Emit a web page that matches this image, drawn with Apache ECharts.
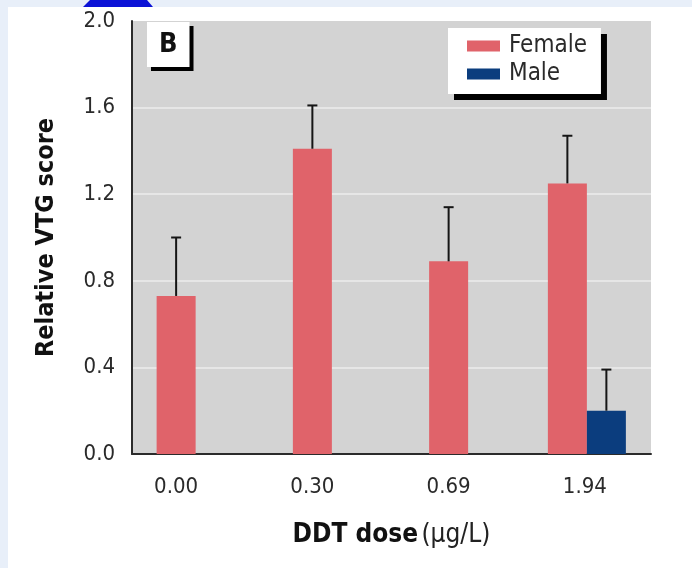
<!DOCTYPE html>
<html>
<head>
<meta charset="utf-8">
<script src="https://cdn.jsdelivr.net/npm/echarts@6/dist/echarts.min.js"></script>
<style>
html,body{margin:0;padding:0;background:#fff;}
#chart{width:692px;height:568px;}
</style>
</head>
<body>
<div id="chart"></div>
<script>
// ---- data ----
const categories = ['0.00', '0.30', '0.69', '1.94'];
const seriesNames = ['Female', 'Male'];
const femaleValues = [0.73, 1.41, 0.89, 1.25];
const femaleErrorTop = [1.00, 1.61, 1.14, 1.47];
const maleValues = [null, null, null, 0.20];
const maleErrorTop = [null, null, null, 0.39];
const yMin = 0, yMax = 2.0, yStep = 0.4;

// ---- styles ----
const FONT = "'Liberation Sans Narrow', 'DejaVu Sans Condensed', 'Liberation Sans', sans-serif";
const FEMALE_COLOR = '#e0636a';
const MALE_COLOR = '#0b3d7e';
const BAR_W = 39;

function isPaired(i) {
  return femaleValues[i] != null && maleValues[i] != null;
}

function barRenderer(side, color) {
  return function (params, api) {
    const i = api.value(0);
    const v = api.value(1);
    const top = api.coord([i, v]);
    const base = api.coord([i, 0]);
    let x = top[0] - BAR_W / 2;
    if (isPaired(i)) x = side < 0 ? top[0] - BAR_W + 2 : top[0] + 2;
    return {
      type: 'rect',
      shape: { x: x, y: top[1], width: BAR_W, height: base[1] - top[1] },
      style: { fill: color }
    };
  };
}

function errRenderer(side) {
  return function (params, api) {
    const i = api.value(0);
    const v = api.value(1);
    const e = api.value(2);
    const p1 = api.coord([i, v]);
    const p2 = api.coord([i, e]);
    let cx = p1[0];
    if (isPaired(i)) cx = side < 0 ? p1[0] - BAR_W / 2 + 2 : p1[0] + BAR_W / 2 + 2;
    const st = { stroke: '#151515', lineWidth: 2 };
    return {
      type: 'group',
      children: [
        { type: 'line', shape: { x1: cx, y1: p1[1], x2: cx, y2: p2[1] }, style: st },
        { type: 'line', shape: { x1: cx - 5, y1: p2[1], x2: cx + 5, y2: p2[1] }, style: st }
      ]
    };
  };
}

const femaleData = femaleValues.map((v, i) => [i, v]);
const maleData = maleValues.map((v, i) => (v == null ? null : [i, v])).filter(d => d);
const femaleErrData = femaleValues.map((v, i) => [i, v, femaleErrorTop[i]]);
const maleErrData = maleValues.map((v, i) => (v == null ? null : [i, v, maleErrorTop[i]])).filter(d => d);

const chart = echarts.init(document.getElementById('chart'), null, { renderer: 'canvas' });

const option = {
  backgroundColor: '#ffffff',
  animation: false,
  title: {
    text: 'B',
    left: 147,
    top: 22,
    backgroundColor: '#ffffff',
    padding: [9, 12, 9, 12],
    shadowColor: '#000000',
    shadowBlur: 0,
    shadowOffsetX: 4,
    shadowOffsetY: 4,
    textStyle: { fontFamily: FONT, fontSize: 27, fontWeight: 'bold', color: '#111' }
  },
  legend: {
    data: seriesNames,
    orient: 'vertical',
    left: 448,
    top: 28,
    padding: [6, 14, 8, 19],
    itemGap: 4,
    itemWidth: 33,
    itemHeight: 11,
    icon: 'rect',
    backgroundColor: '#ffffff',
    shadowColor: '#000000',
    shadowBlur: 0,
    shadowOffsetX: 6,
    shadowOffsetY: 6,
    textStyle: { fontFamily: FONT, fontSize: 24, color: '#2a2a2a', padding: [0, 0, 0, 4] }
  },
  graphic: [
    { type: 'rect', z: -10, shape: { x: 0, y: 0, width: 692, height: 7 }, style: { fill: '#e8eff9' }, silent: true },
    { type: 'rect', z: -10, shape: { x: 0, y: 0, width: 8, height: 568 }, style: { fill: '#e8eff9' }, silent: true },
    { type: 'polygon', z: -9, shape: { points: [[83, 7], [153, 7], [147, 0], [90, 0]] }, style: { fill: '#0b12d6' }, silent: true }
  ],
  grid: [
    { left: 132, right: 41, top: 21, bottom: 114, show: true, backgroundColor: '#d3d3d3', borderWidth: 0 },
    { left: 108, right: 39, top: 21, bottom: 114 }
  ],
  xAxis: [
    {
      type: 'value', gridIndex: 0, min: 0, max: 1,
      axisLine: { show: true, onZero: false, lineStyle: { color: '#2b2b2b', width: 2 } },
      axisTick: { show: false }, axisLabel: { show: false }, splitLine: { show: false },
      name: '{b|DDT dose} {n|(µg/L)}',
      nameLocation: 'middle',
      nameGap: 68,
      nameTextStyle: {
        rich: {
          b: { fontFamily: FONT, fontSize: 26, fontWeight: 'bold', color: '#111' },
          n: { fontFamily: FONT, fontSize: 26, color: '#222' }
        }
      }
    },
    {
      type: 'category', gridIndex: 1, data: categories,
      axisLine: { show: false }, axisTick: { show: false }, splitLine: { show: false },
      axisLabel: { fontFamily: FONT, fontSize: 22, color: '#2a2a2a', margin: 22 }
    }
  ],
  yAxis: [
    {
      type: 'value', gridIndex: 0, min: yMin, max: yMax, interval: yStep,
      axisLine: { show: true, lineStyle: { color: '#2b2b2b', width: 2 } },
      axisTick: { show: false },
      axisLabel: {
        fontFamily: FONT, fontSize: 22, color: '#2a2a2a', margin: 17,
        formatter: v => v.toFixed(1)
      },
      splitLine: { show: true, showMinLine: false, showMaxLine: false, lineStyle: { color: '#e6e6e6', width: 2 } },
      name: 'Relative VTG score',
      nameLocation: 'middle',
      nameRotate: 90,
      nameGap: 73,
      nameTextStyle: { fontFamily: FONT, fontSize: 25, fontWeight: 'bold', color: '#111' }
    },
    {
      type: 'value', gridIndex: 1, min: yMin, max: yMax, interval: yStep, show: false
    }
  ],
  series: [
    {
      name: 'Female', type: 'custom', xAxisIndex: 1, yAxisIndex: 1,
      itemStyle: { color: FEMALE_COLOR },
      renderItem: barRenderer(-1, FEMALE_COLOR),
      encode: { x: 0, y: 1 },
      data: femaleData, z: 3
    },
    {
      name: 'Male', type: 'custom', xAxisIndex: 1, yAxisIndex: 1,
      itemStyle: { color: MALE_COLOR },
      renderItem: barRenderer(1, MALE_COLOR),
      encode: { x: 0, y: 1 },
      data: maleData, z: 3
    },
    {
      name: 'Female error', type: 'custom', xAxisIndex: 1, yAxisIndex: 1,
      renderItem: errRenderer(-1),
      encode: { x: 0, y: [1, 2] },
      data: femaleErrData, z: 4
    },
    {
      name: 'Male error', type: 'custom', xAxisIndex: 1, yAxisIndex: 1,
      renderItem: errRenderer(1),
      encode: { x: 0, y: [1, 2] },
      data: maleErrData, z: 4
    }
  ]
};

chart.setOption(option);
</script>
</body>
</html>
